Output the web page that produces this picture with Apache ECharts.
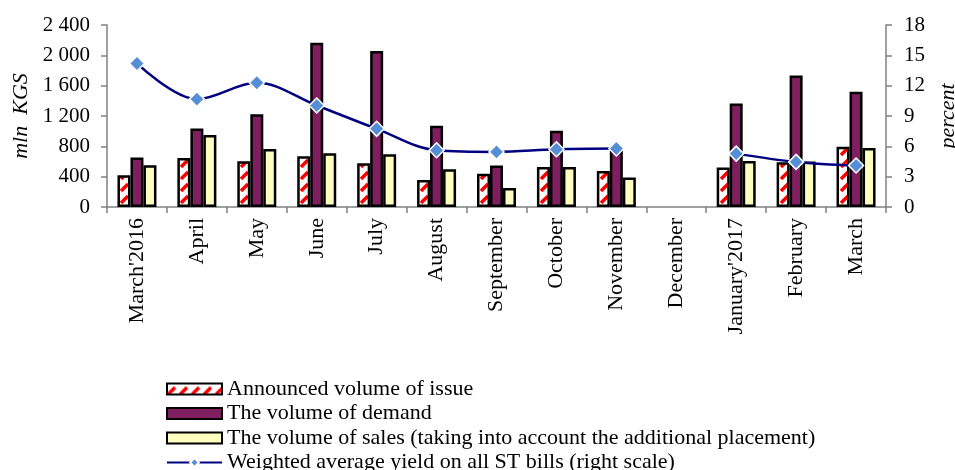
<!DOCTYPE html>
<html>
<head>
<meta charset="utf-8">
<script src="https://cdn.jsdelivr.net/npm/echarts@6/dist/echarts.min.js"></script>
<style>
  html, body { margin: 0; padding: 0; background: #fff; }
  #chart { width: 955px; height: 470px; }
</style>
</head>
<body>
<div id="chart"></div>
<script>
var months = ["March'2016", "April", "May", "June", "July", "August", "September",
              "October", "November", "December", "January'2017", "February", "March"];
var announced = [418, 647, 603, 669, 577, 357, 440, 528, 476, null, 520, 590, 793];
var demand    = [652, 1035, 1224, 2167, 2057, 1070, 546, 1004, 780, null, 1365, 1735, 1519];
var sales     = [550, 951, 766, 709, 696, 498, 251, 528, 388, null, 608, 599, 779];
var yieldPct  = [14.2, 10.67, 12.29, 10.04, 7.73, 5.61, 5.45, 5.71, 5.78, null, 5.28, 4.46, 4.10];

var names = [
    'Announced volume of issue',
    'The volume of demand',
    'The volume of sales (taking into account the additional placement)',
    'Weighted average yield on all ST bills (right scale)'
];

// red diagonal dashes on white, like the excel fill
function stripes() {
    var c = document.createElement('canvas');
    c.width = 12; c.height = 12;
    var g = c.getContext('2d');
    g.fillStyle = '#fff';
    g.fillRect(0, 0, 12, 12);
    g.strokeStyle = '#ff0000';
    g.lineWidth = 3.5;
    g.beginPath();
    g.moveTo(1, 11); g.lineTo(8, 4);
    g.stroke();
    return c;
}

function thousands(v) {
    return String(v).replace(/\B(?=(\d{3})+(?!\d))/g, ' ');
}

var font = 'Liberation Serif';
var axisGrey = { color: '#808080', width: 1.5 };
var myChart = echarts.init(document.getElementById('chart'));
var option = {
    animation: false,
    textStyle: { fontFamily: font },
    grid: { left: 107, right: 69, top: 25, bottom: 263, outerBoundsMode: 'none' },
    legend: {
        orient: 'vertical',
        left: 161,
        top: 373,
        height: 100,
        itemWidth: 55,
        itemHeight: 11,
        itemGap: 2.5,
        textStyle: { fontFamily: font, fontSize: 22, lineHeight: 22, color: '#000' },
        data: [
            { name: names[0], icon: 'rect' },
            { name: names[1], icon: 'rect' },
            { name: names[2], icon: 'rect' },
            { name: names[3] }
        ]
    },
    xAxis: {
        type: 'category',
        data: months,
        axisLine: { lineStyle: axisGrey },
        axisTick: { show: true, length: 6, lineStyle: axisGrey },
        axisLabel: { rotate: 90, fontSize: 22, color: '#000', fontFamily: font, margin: 11 }
    },
    yAxis: [
        {
            type: 'value', min: 0, max: 2400, interval: 400,
            name: 'mln  KGS', nameLocation: 'middle', nameGap: 75, nameRotate: 90,
            nameTextStyle: { fontStyle: 'italic', fontSize: 22, color: '#000', fontFamily: font },
            axisLine: { show: true, lineStyle: axisGrey },
            axisTick: { show: true, length: 6, lineStyle: axisGrey },
            splitLine: { show: false },
            axisLabel: { fontSize: 21, color: '#000', fontFamily: font, margin: 17, formatter: thousands }
        },
        {
            type: 'value', min: 0, max: 18, interval: 3,
            name: 'percent', nameLocation: 'middle', nameGap: 51, nameRotate: 90,
            nameTextStyle: { fontStyle: 'italic', fontSize: 22, color: '#000', fontFamily: font },
            axisLine: { show: true, lineStyle: axisGrey },
            axisTick: { show: true, length: 6, lineStyle: axisGrey },
            splitLine: { show: false },
            axisLabel: { fontSize: 21, color: '#000', fontFamily: font, margin: 18 }
        }
    ],
    series: [
        {
            name: names[0], type: 'bar', data: announced,
            barWidth: 13, barGap: '0%',
            itemStyle: { color: { image: stripes(), repeat: 'repeat' }, borderColor: '#000', borderWidth: 2.5 }
        },
        {
            name: names[1], type: 'bar', data: demand,
            barWidth: 13, barGap: '0%',
            itemStyle: { color: '#7f1f5f', borderColor: '#000', borderWidth: 2.5 }
        },
        {
            name: names[2], type: 'bar', data: sales,
            barWidth: 13, barGap: '0%',
            itemStyle: { color: '#ffffc0', borderColor: '#000', borderWidth: 2.5 }
        },
        {
            name: names[3], type: 'line', yAxisIndex: 1, data: yieldPct,
            smooth: 0.35, connectNulls: false,
            symbol: 'diamond', symbolSize: 15,
            lineStyle: { color: '#000080', width: 2.5 },
            itemStyle: { color: '#558ed5', borderColor: '#fff', borderWidth: 1.5 },
            z: 5
        }
    ]
};
myChart.setOption(option);
</script>
</body>
</html>
